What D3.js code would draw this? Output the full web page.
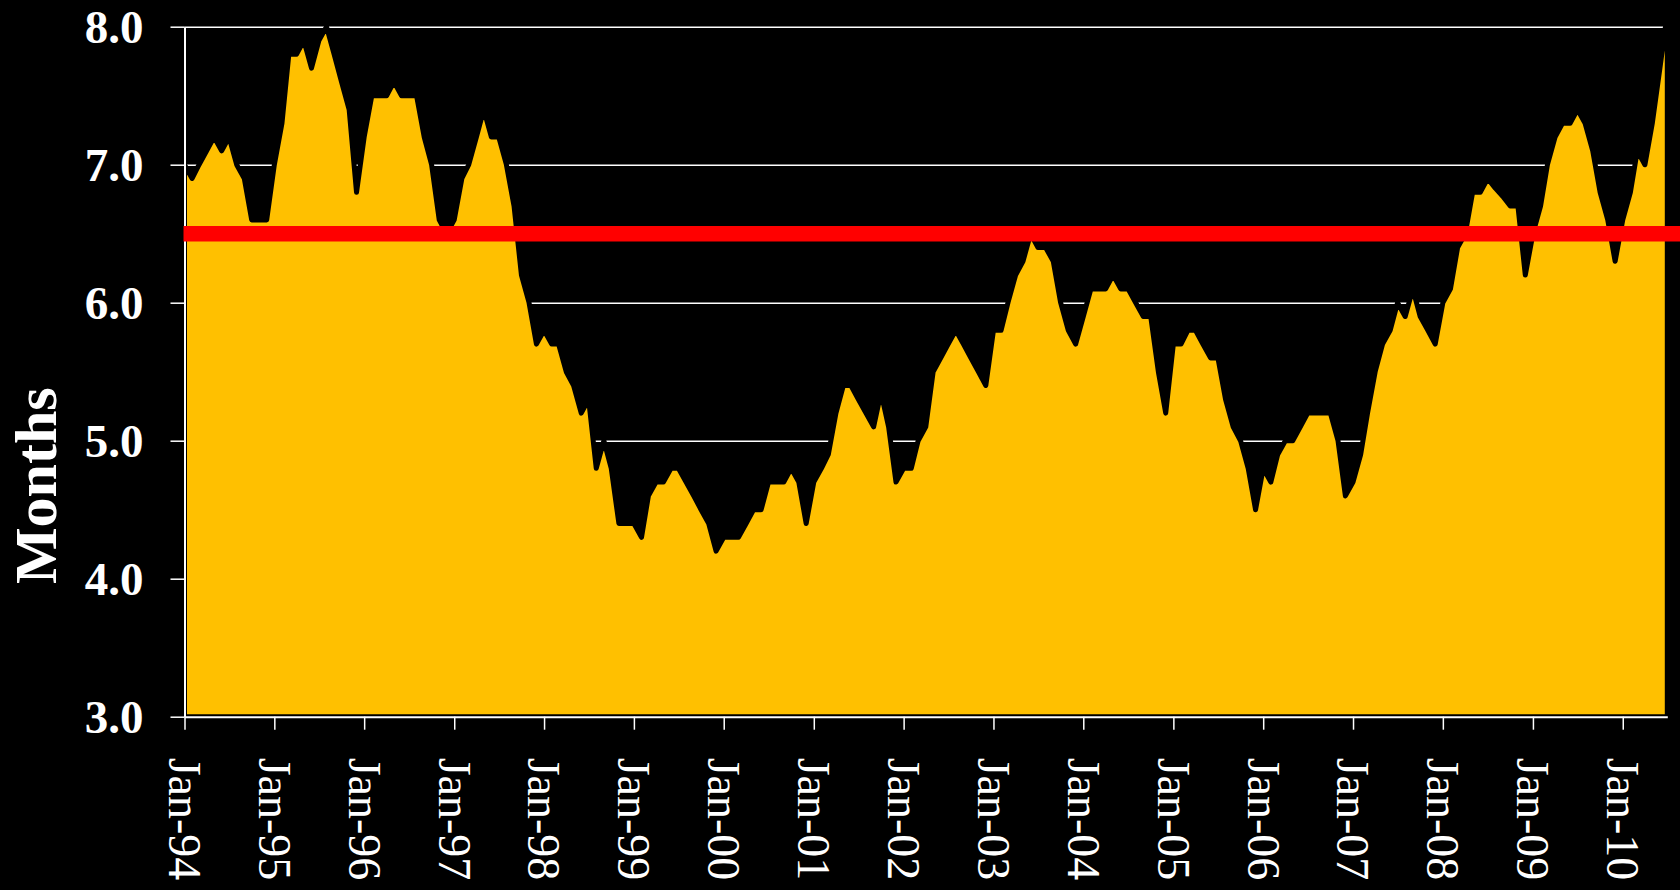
<!DOCTYPE html>
<html>
<head>
<meta charset="utf-8">
<script src="https://cdn.jsdelivr.net/npm/d3@7"></script>
<style>
  html, body { margin: 0; padding: 0; background: #000; }
  svg { display: block; }
</style>
</head>
<body>
<script>
//////////////////////////////////////////// DATA ////////////////////////////////////////////
// months' supply, one value a month, Jan-94 .. Jul-10
var firstMonth = new Date(1994, 0, 1);
var monthsSupply = [
    7.0, 6.9, 7.0, 7.1, 7.2, 7.1, 7.2, 7.0, 6.9, 6.6, 6.6, 6.6,   // 1994
    7.0, 7.3, 7.8, 7.8, 7.9, 7.7, 7.9, 8.0, 7.8, 7.6, 7.4, 6.8,   // 1995
    7.2, 7.5, 7.5, 7.5, 7.6, 7.5, 7.5, 7.5, 7.2, 7.0, 6.6, 6.5,   // 1996
    6.6, 6.9, 7.0, 7.2, 7.4, 7.2, 7.2, 7.0, 6.7, 6.2, 6.0, 5.7,   // 1997
    5.8, 5.7, 5.7, 5.5, 5.4, 5.2, 5.3, 4.8, 5.0, 4.8, 4.4, 4.4,   // 1998
    4.4, 4.3, 4.6, 4.7, 4.7, 4.8, 4.8, 4.7, 4.6, 4.5, 4.4, 4.2,   // 1999
    4.3, 4.3, 4.3, 4.4, 4.5, 4.5, 4.7, 4.7, 4.7, 4.8, 4.7, 4.4,   // 2000
    4.7, 4.8, 4.9, 5.2, 5.4, 5.4, 5.3, 5.2, 5.1, 5.35, 5.1, 4.7,  // 2001
    4.8, 4.8, 5.0, 5.1, 5.5, 5.6, 5.7, 5.8, 5.7, 5.6, 5.5, 5.4,   // 2002
    5.8, 5.8, 6.0, 6.2, 6.3, 6.5, 6.4, 6.4, 6.3, 6.0, 5.8, 5.7,   // 2003
    5.9, 6.1, 6.1, 6.1, 6.2, 6.1, 6.1, 6.0, 5.9, 5.9, 5.5, 5.2,   // 2004
    5.7, 5.7, 5.8, 5.8, 5.7, 5.6, 5.6, 5.3, 5.1, 5.0, 4.8, 4.5,   // 2005
    4.8, 4.7, 4.9, 5.0, 5.0, 5.1, 5.2, 5.2, 5.2, 5.2, 5.0, 4.6,   // 2006
    4.7, 4.9, 5.2, 5.5, 5.7, 5.8, 6.0, 5.9, 6.1, 5.9, 5.8, 5.7,   // 2007
    6.0, 6.1, 6.4, 6.5, 6.8, 6.8, 6.9, 6.83, 6.77, 6.7, 6.7, 6.2, // 2008
    6.5, 6.7, 7.0, 7.2, 7.3, 7.3, 7.4, 7.3, 7.1, 6.8, 6.6, 6.3,   // 2009
    6.6, 6.8, 7.1, 7.0, 7.3, 7.7, 8.1                             // 2010
];
var yTicks = [3, 4, 5, 6, 7, 8];
var gridTicks = [4, 5, 6, 7, 8];
var benchmark = 6.5;
var yTitle = "Months";

//////////////////////////////////////////// CHART ///////////////////////////////////////////
var width = 1680,
    height = 890,
    plotLeft = 184.5,
    plotRight = 1667.3,
    plotTop = 26.7,
    plotBottom = 716.7,
    serif = "'Liberation Serif', 'Times New Roman', Times, serif";

var data = monthsSupply.map(function (v, i) {
    return { date: d3.timeMonth.offset(firstMonth, i), value: v };
});

var x = d3.scaleTime()
    .domain([firstMonth, data[data.length - 1].date])
    .range([plotLeft, plotRight]);

var y = d3.scaleLinear()
    .domain([3, 8])
    .range([plotBottom, plotTop]);

var svg = d3.select("body").append("svg")
    .attr("width", width)
    .attr("height", height)
    .style("background", "#000");

// gridlines behind the area
var grid = svg.append("g")
    .attr("transform", "translate(" + plotLeft + ",0)")
    .attr("color", "#fff")
    .call(d3.axisLeft(y).tickValues(gridTicks).tickSize(-(plotRight - plotLeft)).tickFormat(""));
grid.select(".domain").remove();
grid.selectAll("line").attr("stroke-width", 1.5);

// the area
var area = d3.area()
    .x(function (d) { return x(d.date); })
    .y0(y(3))
    .y1(function (d) { return y(d.value); });

svg.append("path")
    .datum(data)
    .attr("d", area)
    .attr("fill", "#FFC000")
    .attr("stroke", "#000")
    .attr("stroke-width", 5)
    .attr("stroke-linejoin", "round");

// y axis
var yAxis = svg.append("g")
    .attr("transform", "translate(" + plotLeft + ",0)")
    .attr("color", "#fff")
    .call(d3.axisLeft(y)
        .tickValues(yTicks)
        .tickSize(14)
        .tickSizeOuter(0)
        .tickPadding(27)
        .tickFormat(d3.format(".1f")));
yAxis.select(".domain").attr("stroke-width", 2);
yAxis.selectAll("line").attr("stroke-width", 1.5);
yAxis.selectAll("text")
    .attr("font-family", serif)
    .attr("font-weight", "bold")
    .attr("font-size", 47)
    .attr("dy", "0.34em");

// x axis
var xAxis = svg.append("g")
    .attr("transform", "translate(0," + plotBottom + ")")
    .attr("color", "#fff")
    .call(d3.axisBottom(x)
        .ticks(d3.timeYear.every(1))
        .tickSize(13)
        .tickSizeOuter(0)
        .tickFormat(d3.timeFormat("%b-%y")));
xAxis.select(".domain").attr("stroke-width", 2);
xAxis.selectAll("line").attr("stroke-width", 1.5);
xAxis.selectAll("text")
    .attr("font-family", serif)
    .attr("font-size", 46)
    .attr("x", 41)
    .attr("y", 0)
    .attr("dy", "0.35em")
    .attr("transform", "rotate(90)")
    .style("text-anchor", "start");

// benchmark line
svg.append("line")
    .attr("x1", plotLeft - 1)
    .attr("x2", width)
    .attr("y1", y(benchmark))
    .attr("y2", y(benchmark))
    .attr("stroke", "#FF0000")
    .attr("stroke-width", 15.5);

// axis title
svg.append("text")
    .attr("transform", "translate(56," + ((plotTop + plotBottom) / 2 + 114) + ") rotate(-90)")
    .attr("text-anchor", "middle")
    .attr("font-family", serif)
    .attr("font-weight", "bold")
    .attr("font-size", 60)
    .attr("fill", "#fff")
    .text(yTitle);
</script>
</body>
</html>
